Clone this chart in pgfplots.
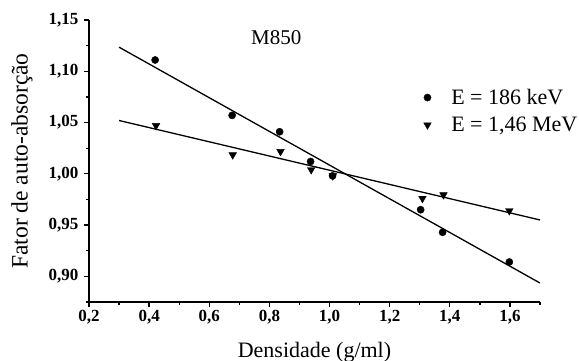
\documentclass[border=0pt]{standalone}
\usepackage{pgfplots}
\pgfplotsset{compat=1.18}
\usepackage{fontspec}
\setmainfont{Liberation Serif}
\begin{document}
\begin{tikzpicture}
\useasboundingbox (-89bp,-59bp) rectangle (490bp,302bp);
\begin{axis}[
  at={(0,0)}, anchor=south west,
  scale only axis, width=451bp, height=282bp,
  xmin=0.2, xmax=1.7, ymin=0.875, ymax=1.15,
  enlargelimits=false,
  axis lines=left, axis line style={-, line width=1.8bp},
  xtick={0.2,0.4,...,1.6}, minor xtick={0.3,0.5,...,1.7},
  ytick={0.90,0.95,1.00,1.05,1.10,1.15}, minor ytick={0.875,0.925,...,1.15},
  tick align=outside, major tick length=5bp, minor tick length=3bp,
  every tick/.style={line width=1.3bp, black},
  /pgf/number format/assume math mode=true,
  /pgf/number format/use comma,
  xticklabel style={/pgf/number format/fixed, /pgf/number format/precision=1, /pgf/number format/fixed zerofill, font=\bfseries\fontsize{17bp}{17bp}\selectfont},
  yticklabel style={/pgf/number format/fixed, /pgf/number format/precision=2, /pgf/number format/fixed zerofill, font=\bfseries\fontsize{17bp}{17bp}\selectfont, xshift=-2bp},
  xlabel={Densidade (g/ml)},
  ylabel={Fator de auto-absorção},
  xlabel style={at={(axis description cs:0.5,-0.177)}, anchor=center, font=\fontsize{22bp}{22bp}\selectfont},
  ylabel style={at={(axis description cs:-0.1486,0.5)}, anchor=center, font=\fontsize{23.5bp}{23.5bp}\selectfont},
  legend style={draw=none, fill=none, at={(axis description cs:0.735,0.677)}, anchor=west, font=\fontsize{22bp}{22bp}\selectfont, row sep=7bp, /tikz/every odd column/.append style={column sep=18bp}},
  legend cell align=left,
]
\addplot[only marks, mark=*, mark size=3.6bp, black] coordinates {
 (0.42,1.111) (0.676,1.057) (0.834,1.041) (0.937,1.012) (1.01,0.998) (1.303,0.965) (1.376,0.943) (1.598,0.914)};
\addlegendentry{E = 186 keV}
\addplot[only marks, mark=triangle*, mark size=4.4bp, mark options={rotate=180}, black] coordinates {
 (0.423,1.047) (0.678,1.0185) (0.837,1.0217) (0.939,1.004) (1.011,0.998) (1.309,0.976) (1.379,0.9795) (1.598,0.964)};
\addlegendentry{E = 1,46 MeV}
\addplot[black, line width=1.3bp, forget plot] coordinates {(0.3,1.1235) (1.7,0.8935)};
\addplot[black, line width=1.3bp, forget plot] coordinates {(0.3,1.052) (1.7,0.955)};
\node[font=\fontsize{21bp}{21bp}\selectfont] at (axis cs:0.823,1.1326) {M850};
\end{axis}
\end{tikzpicture}
\end{document}
